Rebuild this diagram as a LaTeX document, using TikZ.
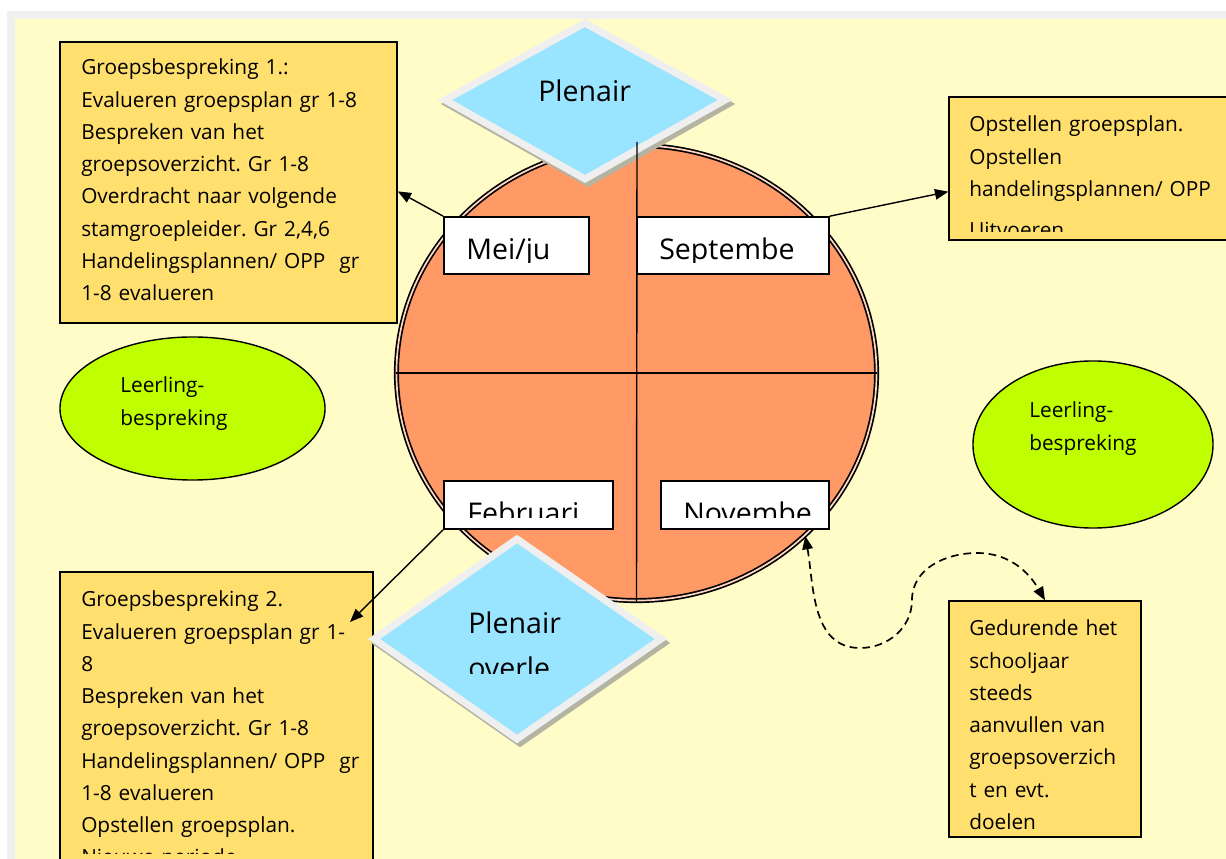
\documentclass[tikz,border=0pt]{standalone}
\usepackage{fontspec}
\setmainfont{Open Sans}
\frenchspacing
\usetikzlibrary{arrows.meta, fit, shapes.geometric}

\definecolor{bgyellow}{HTML}{FFFCC8}
\definecolor{bandgrey}{HTML}{F0F0F0}
\definecolor{notegold}{HTML}{FFDF6E}
\definecolor{leafgreen}{HTML}{BFFF00}
\definecolor{clockorange}{HTML}{FF9966}
\definecolor{diamondblue}{HTML}{99E4FF}
\definecolor{diamondrim}{HTML}{EFEFEF}
\definecolor{shadowgrey}{HTML}{B4B4A2}

\tikzset{
  >={Triangle[length=9.5pt, width=7.5pt]},
  notebox/.style={draw=black, line width=1pt, fill=notegold, inner sep=0pt},
  monthbox/.style={draw=black, line width=1.2pt, fill=white, inner sep=0pt},
  notetext/.style={anchor=base west, inner sep=0pt, align=left, text width=9cm,
    font=\fontsize{14.8}{22.9}\selectfont},
  bigtext/.style={anchor=base west, inner sep=0pt, align=left, text width=6cm,
    font=\fontsize{20.3}{31.5}\selectfont},
  talk/.style={ellipse, draw=black, line width=1pt, fill=leafgreen, inner sep=0pt},
  arr/.style={->, line width=1pt},
}

\begin{document}
\begin{tikzpicture}[x=0.025cm, y=-0.025cm]
  \useasboundingbox (0,0) rectangle (1226,859);
  \clip (0,0) rectangle (1226,859);
  % page
  \fill[white] (0,0) rectangle (1226,859);
  \fill[bandgrey] (6.5,11) rectangle (1226,859);
  \fill[bgyellow] (14.5,19) rectangle (1226,859);

  % leerlingbespreking
  \node[talk, minimum width=6.625cm, minimum height=3.575cm] (llbl) at (192.5,408.5) {};
  \node[talk, minimum width=6cm, minimum height=4.175cm] (llbr) at (1093,444.5) {};
  \node[notetext] (llbltxt) at (120,393) {Leerling-\\bespreking};
  \node[notetext] (llbrtxt) at (1029,418) {Leerling-\\bespreking};

  % notities
  \node[notebox, fit={(60,42) (397,323)}] (grp1) {};
  \node[notetext] (grp1txt) at (81,75) {Groepsbespreking 1.:\\Evalueren groepsplan gr 1-8\\Bespreken van het\\groepsoverzicht. Gr 1-8\\Overdracht naar volgende\\stamgroepleider. Gr 2,4,6\\Handelingsplannen/ OPP\ \ gr\\1-8 evalueren};

  \node[notebox, fit={(949,97) (1240,240)}] (sepnote) {};
  \begin{scope}
    \clip (949,97) rectangle (1240,232);
    \node[notetext] (sepnotetxt) at (969,132) {Opstellen groepsplan.\\Opstellen\\handelingsplannen/ OPP\\[6pt]Uitvoeren};
  \end{scope}

  \node[notebox, fit={(60,572) (373,900)}] (grp2) {};
  \begin{scope}
    \clip (60,572) rectangle (373,853);
    \node[notetext] (grp2txt) at (81,607) {Groepsbespreking 2.\\Evalueren groepsplan gr 1-\\8\\Bespreken van het\\groepsoverzicht. Gr 1-8\\Handelingsplannen/ OPP\ \ gr\\1-8 evalueren\\Opstellen groepsplan.\\Nieuwe periode};
  \end{scope}

  \node[notebox, fit={(949,601) (1141,837)}] (jaar) {};
  \node[notetext] (jaartxt) at (969,636) {Gedurende het\\schooljaar\\steeds\\aanvullen van\\groepsoverzich\\t en evt.\\doelen};

  % jaarklok
  \node[ellipse, draw=black, line width=1.2pt, double=clockorange!40, double distance=1.2pt,
    fill=clockorange, minimum width=12cm, minimum height=11.375cm, inner sep=0pt] (klok) at (636.5,373) {};
  \draw[line width=1pt] (klok.west) -- (klok.east);

  % plenair
  \begin{scope}[shift={(3,4)}]
    \filldraw[shadowgrey, line width=5pt] (585,23) -- (725,100) -- (585,179) -- (445,100) -- cycle;
    \filldraw[shadowgrey, line width=5pt] (517,539) -- (661,639) -- (517,739) -- (374,639) -- cycle;
  \end{scope}
  \filldraw[fill=diamondblue, draw=diamondrim, line width=5pt] (585,23) -- (725,100) -- (585,179) -- (445,100) -- cycle;
  \filldraw[fill=diamondblue, draw=diamondrim, line width=5pt] (517,539) -- (661,639) -- (517,739) -- (374,639) -- cycle;
  \node[bigtext] (plen1) at (538,102) {Plenair};
  \begin{scope}
    \clip (374,539) rectangle (661,674);
    \node[bigtext] (plen2) at (468,634) {Plenair\\overle};
  \end{scope}

  \coordinate (astop) at (637,142);
  \draw[line width=1pt] (astop) -- (klok.south);

  % maanden
  \node[monthbox, fit={(444,217) (589,274)}] (mei) {};
  \node[monthbox, fit={(637,217) (829,274)}] (sep) {};
  \node[monthbox, fit={(444,481) (613,529)}] (feb) {};
  \node[monthbox, fit={(661,481) (829,529)}] (nov) {};
  \begin{scope}
    \clip (444,217) rectangle (829,263);
    \node[bigtext] (meitxt) at (466,260) {Mei/ju};
    \node[bigtext] (septxt) at (659,260) {Septembe};
  \end{scope}
  \begin{scope}
    \clip (444,481) rectangle (829,518);
    \node[bigtext] (febtxt) at (467,524) {Februari};
    \node[bigtext] (novtxt) at (683,524) {Novembe};
  \end{scope}

  % pijlen
  \coordinate (grp2pt) at (350,622);
  \draw[arr] (mei.north west) -- (grp1.-3.6);
  \draw[arr] (sep.north east) -- (sepnote.189.6);
  \draw[arr] (feb.south west) -- (grp2pt);
  \draw[<->, line width=1.2pt, dash pattern=on 5.5pt off 3.5pt]
    (klok.-44.4) to[out=-80, in=180] (860,648) to[out=0, in=-90] (912,600)
    to[out=90, in=180] (977,553) to[out=0, in=120] (jaar.north);
\end{tikzpicture}
\end{document}
